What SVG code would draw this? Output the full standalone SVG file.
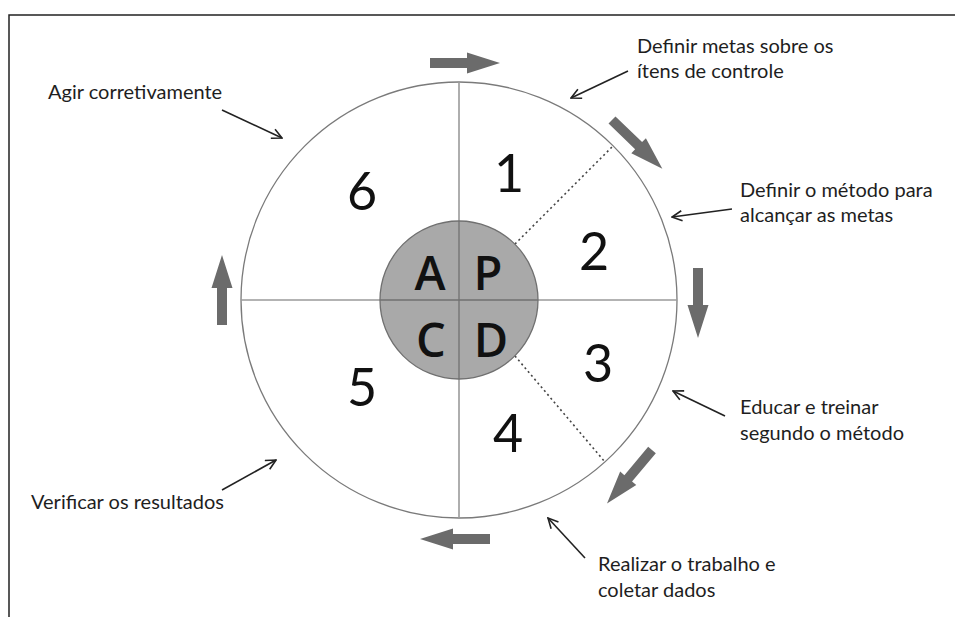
<svg xmlns="http://www.w3.org/2000/svg" width="955" height="617" viewBox="0 0 955 617">
<defs>
<style>
.lbl{font-family:Lato,"Open Sans","Liberation Sans",sans-serif;font-size:20px;fill:#1e1e1e}
.num{font-family:Lato,"Open Sans","Liberation Sans",sans-serif;font-size:52px;fill:#111;text-anchor:middle}
.let{font-family:"Open Sans",Lato,"Liberation Sans",sans-serif;font-size:47px;font-weight:600;fill:#111;text-anchor:middle}
.thin{stroke:#222;stroke-width:1.6;fill:none;marker-end:url(#open)}
.blk{fill:#6b6b6b}
.div{stroke:#9a9a9a;stroke-width:1.6}
.dot{stroke:#444;stroke-width:1.6;stroke-dasharray:2 3}
</style>
<marker id="open" viewBox="0 0 12 12" refX="11" refY="6" markerWidth="12" markerHeight="12" markerUnits="userSpaceOnUse" orient="auto">
<path d="M1,1 L11,6 L1,11" fill="none" stroke="#222" stroke-width="1.6"/>
</marker>
<path id="barrow" d="M0,-5 L37,-5 L37,-10.5 L70,0 L37,10.5 L37,5 L0,5 Z"/>
</defs>
<rect width="955" height="617" fill="#fff"/>
<g id="frame" stroke="#222" stroke-width="1.5" fill="none">
<path d="M9,617 L9,15 L955,15"/>
</g>
<g id="wheel">
<circle cx="459" cy="300" r="218" fill="#fff" stroke="#7a7a7a" stroke-width="1.3"/>
<line class="div" x1="459" y1="82" x2="459" y2="518"/>
<line class="div" x1="241" y1="300" x2="677" y2="300"/>
<line class="dot" x1="515" y1="244" x2="612" y2="147"/>
<line class="dot" x1="515" y1="356" x2="605" y2="462"/>
</g>
<g id="pdca">
<circle cx="459" cy="300" r="79" fill="#a9a9a9" stroke="#707070" stroke-width="1.3"/>
<line x1="459" y1="221" x2="459" y2="379" stroke="#707070" stroke-width="1.3"/>
<line x1="380" y1="300" x2="538" y2="300" stroke="#707070" stroke-width="1.3"/>
<text class="let" x="430" y="290">A</text>
<text class="let" x="488" y="290">P</text>
<text class="let" x="431" y="357">C</text>
<text class="let" x="491" y="357">D</text>
</g>
<g id="numbers">
<text class="num" x="509" y="192">1</text>
<text class="num" x="594" y="270">2</text>
<text class="num" x="598" y="382">3</text>
<text class="num" x="508" y="452">4</text>
<text class="num" x="362" y="406">5</text>
<text class="num" x="362" y="210">6</text>
</g>
<g id="cycle-arrows" class="blk">
<use href="#barrow" transform="translate(430,63)"/>
<use href="#barrow" transform="translate(612,120) rotate(44)"/>
<use href="#barrow" transform="translate(698,268) rotate(90)"/>
<use href="#barrow" transform="translate(652,450) rotate(130)"/>
<use href="#barrow" transform="translate(490,539) rotate(180)"/>
<use href="#barrow" transform="translate(222,325) rotate(-90)"/>
</g>
<g id="label-act">
<text class="lbl" x="48" y="99">Agir corretivamente</text>
</g>
<g id="label-plan1">
<text class="lbl" x="637" y="53">Definir metas sobre os</text>
<text class="lbl" x="637" y="78">ítens de controle</text>
</g>
<g id="label-plan2">
<text class="lbl" x="740" y="197">Definir o método para</text>
<text class="lbl" x="740" y="222">alcançar as metas</text>
</g>
<g id="label-do1">
<text class="lbl" x="740" y="414">Educar e treinar</text>
<text class="lbl" x="740" y="440">segundo o método</text>
</g>
<g id="label-do2">
<text class="lbl" x="598" y="571">Realizar o trabalho e</text>
<text class="lbl" x="598" y="597">coletar dados</text>
</g>
<g id="label-check">
<text class="lbl" x="31" y="509">Verificar os resultados</text>
</g>
<g id="connectors">
<line class="thin" x1="222" y1="110" x2="282" y2="138"/>
<line class="thin" x1="628" y1="71" x2="571" y2="98"/>
<line class="thin" x1="732" y1="209" x2="672" y2="217"/>
<line class="thin" x1="725" y1="416" x2="673" y2="391"/>
<line class="thin" x1="585" y1="558" x2="548" y2="518"/>
<line class="thin" x1="222" y1="490" x2="276" y2="460"/>
</g>
</svg>
